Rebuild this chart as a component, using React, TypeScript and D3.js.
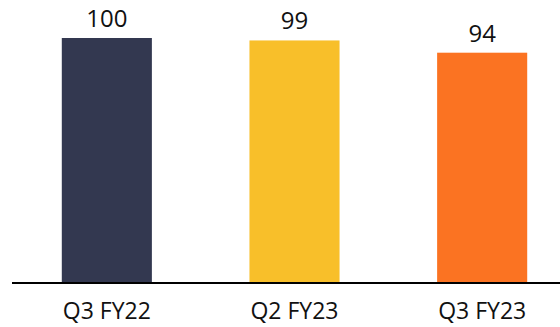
import React from "react";
import * as d3 from "d3";

const categories = ["Q3 FY22", "Q2 FY23", "Q3 FY23"];
const values = [100, 99, 94];
const colors = ["#333850", "#F8BF2A", "#FB7322"];

const W = 560;
const H = 327;
const baseY = 283;
const topY = 38;

export default function App() {
  const x = d3
    .scaleBand<string>()
    .domain(categories)
    .range([13, 576])
    .paddingInner(0.52)
    .paddingOuter(0.26);
  const y = d3.scaleLinear().domain([0, 100]).range([baseY, topY]);
  const font = "'Open Sans', 'Noto Sans', sans-serif";

  return (
    <svg
      width={W}
      height={H}
      style={{ position: "absolute", left: 0, top: 0, background: "#fff" }}
      fontFamily={font}
    >
      {categories.map((c, i) => {
        const bx = x(c)!;
        const bw = x.bandwidth();
        return (
          <g key={c}>
            <rect x={bx} y={y(values[i])} width={bw} height={baseY - y(values[i])} fill={colors[i]} />
            <text x={bx + bw / 2} y={y(values[i]) - 11} textAnchor="middle" fontSize={24} fill="#111">
              {values[i]}
            </text>
            <text x={bx + bw / 2} y={baseY + 36} textAnchor="middle" fontSize={23} fill="#111">
              {c}
            </text>
          </g>
        );
      })}
      <line x1={12} x2={W} y1={baseY} y2={baseY} stroke="#000" strokeWidth={2} />
    </svg>
  );
}
